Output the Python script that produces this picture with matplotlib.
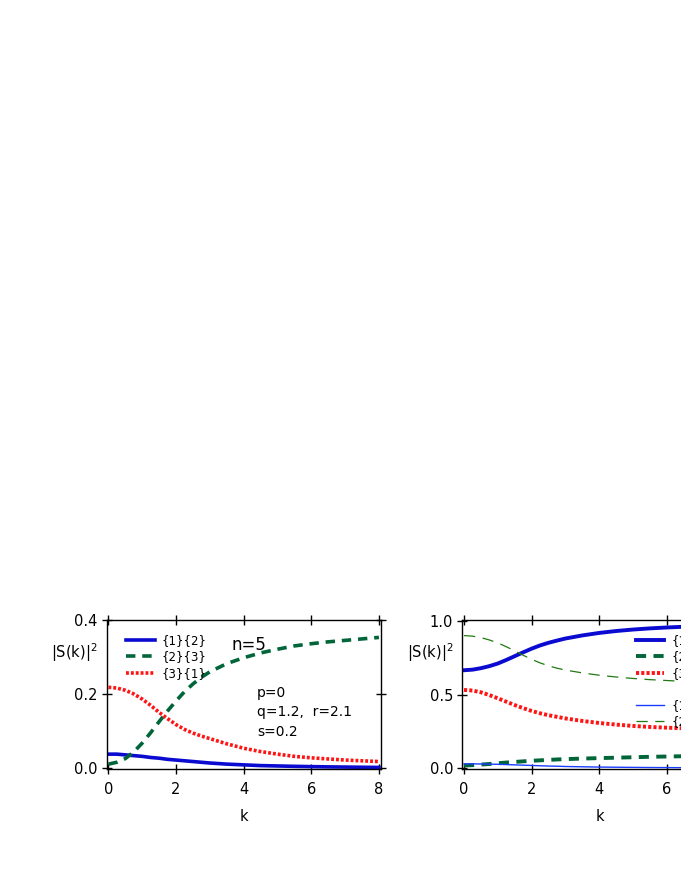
import matplotlib
matplotlib.use("Agg")
import matplotlib.pyplot as plt

k = [0, 0.25, 0.5, 0.75, 1.0, 1.25, 1.5, 1.75, 2.0, 2.25, 2.5, 2.75, 3.0,
     3.5, 4.0, 4.5, 5.0, 5.5, 6.0, 6.5, 7.0, 7.5, 8.0]

# left panel (n=5)
left_12 = [0.038, 0.038, 0.036, 0.034, 0.032, 0.029, 0.027, 0.024, 0.022, 0.020, 0.018, 0.016, 0.014,
           0.011, 0.009, 0.007, 0.006, 0.005, 0.0042, 0.0035, 0.003, 0.0025, 0.002]
left_23 = [0.011, 0.016, 0.026, 0.044, 0.068, 0.096, 0.126, 0.155, 0.182, 0.207, 0.228, 0.246, 0.261,
           0.283, 0.299, 0.312, 0.322, 0.331, 0.337, 0.342, 0.346, 0.350, 0.354]
left_31 = [0.219, 0.217, 0.211, 0.201, 0.187, 0.170, 0.151, 0.134, 0.118, 0.105, 0.095, 0.087, 0.080,
           0.066, 0.054, 0.045, 0.038, 0.032, 0.028, 0.025, 0.022, 0.020, 0.018]

# right panel
right_12 = [0.666, 0.670, 0.680, 0.694, 0.712, 0.736, 0.762, 0.788, 0.813, 0.835, 0.853, 0.868, 0.882,
            0.903, 0.920, 0.933, 0.943, 0.951, 0.957, 0.962, 0.966, 0.969, 0.972]
right_23 = [0.018, 0.020, 0.024, 0.028, 0.033, 0.038, 0.042, 0.046, 0.050, 0.053, 0.056, 0.059, 0.061,
            0.065, 0.068, 0.071, 0.074, 0.077, 0.079, 0.081, 0.082, 0.083, 0.084]
right_31 = [0.532, 0.528, 0.516, 0.497, 0.475, 0.452, 0.429, 0.408, 0.389, 0.373, 0.360, 0.349, 0.338,
            0.321, 0.307, 0.296, 0.287, 0.280, 0.275, 0.271, 0.268, 0.266, 0.264]
right_12b = [0.029, 0.029, 0.028, 0.027, 0.026, 0.024, 0.022, 0.020, 0.018, 0.016, 0.014, 0.013, 0.011,
             0.009, 0.007, 0.006, 0.005, 0.004, 0.0035, 0.003, 0.0025, 0.002, 0.002]
right_23b = [0.902, 0.898, 0.888, 0.872, 0.852, 0.826, 0.798, 0.768, 0.740, 0.716, 0.696, 0.680, 0.667,
             0.648, 0.632, 0.620, 0.610, 0.602, 0.596, 0.590, 0.585, 0.581, 0.578]

labels = ["{1}{2}", "{2}{3}", "{3}{1}"]
params = ["p=0", "q=1.2,  r=2.1", "s=0.2"]

BLUE = "#0a0ad0"
GREEN = "#00663a"
RED = "#ff1414"
BLUE2 = "#1a3cff"
GREEN2 = "#1f7a10"

plt.rcParams["font.family"] = "DejaVu Sans"
fig = plt.figure(figsize=(6.81, 8.81), dpi=100)
ax1 = fig.add_axes([0.1567, 0.1268, 0.4032, 0.1698])
ax2 = fig.add_axes([0.6789, 0.1268, 0.4032, 0.1698])

leg_kw = dict(frameon=False, fontsize=8.5, handlelength=2.4, handletextpad=0.6,
              labelspacing=0.3, borderaxespad=0.0, borderpad=0.0)


def style(ax, ylim, yticks, ylabel_pos):
    ax.set_xlim(-0.05, 8.07)
    ax.set_ylim(*ylim)
    ax.set_xticks([0, 2, 4, 6, 8])
    ax.set_yticks(yticks)
    ax.tick_params(direction="inout", length=7, width=1, top=True, right=True,
                   labelsize=10.5)
    ax.tick_params(axis="x", pad=6)
    ax.tick_params(axis="y", pad=3)
    for s in ax.spines.values():
        s.set_linewidth(1)
    ax.set_xlabel("k", fontsize=10.5, labelpad=8)
    ax.text(ylabel_pos[0], ylabel_pos[1], r"|S(k)|$^2$", transform=ax.transAxes,
            ha="right", va="center", fontsize=10.5)


style(ax1, (-0.003, 0.402), [0.0, 0.2, 0.4], (-0.035, 0.78))
ax1.set_yticklabels(["0.0", "0.2", "0.4"])
ax1.plot(k, left_12, color=BLUE, lw=2.6, label=labels[0])
ax1.plot(k, left_23, color=GREEN, lw=2.6, dashes=(2.6, 1.9), label=labels[1])
ax1.plot(k, left_31, color=RED, lw=2.6, dashes=(0.8, 0.55), label=labels[2])
ax1.legend(loc="upper left", bbox_to_anchor=(0.072, 0.905), **leg_kw)
ax1.text(0.453, 0.83, "n=5", transform=ax1.transAxes, fontsize=12, va="center")
for i, y in enumerate([0.51, 0.383, 0.251]):
    ax1.text(0.548, y, params[i], transform=ax1.transAxes, fontsize=10, va="center")

style(ax2, (-0.008, 1.01), [0.0, 0.5, 1.0], (-0.033, 0.78))
ax2.set_yticklabels(["0.0", "0.5", "1.0"])
h1, = ax2.plot(k, right_12, color=BLUE, lw=2.8, label=labels[0])
h2, = ax2.plot(k, right_23, color=GREEN, lw=2.8, dashes=(2.6, 1.9), label=labels[1])
h3, = ax2.plot(k, right_31, color=RED, lw=2.8, dashes=(0.8, 0.55), label=labels[2])
h4, = ax2.plot(k, right_12b, color=BLUE2, lw=1.0, label=labels[0])
h5, = ax2.plot(k, right_23b, color=GREEN2, lw=0.9, dashes=(9, 6), label=labels[1])
leg = ax2.legend(handles=[h1, h2, h3], loc="upper left", bbox_to_anchor=(0.633, 0.905), **leg_kw)
ax2.add_artist(leg)
ax2.legend(handles=[h4, h5], loc="upper left", bbox_to_anchor=(0.633, 0.47), **leg_kw)

fig.savefig("out.png", dpi=100)
